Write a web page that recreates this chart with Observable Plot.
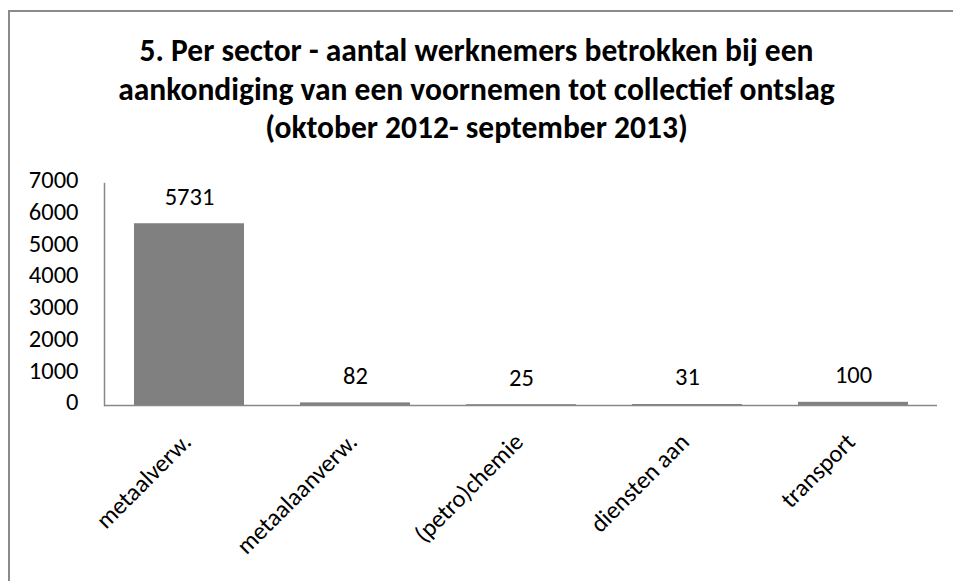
<!DOCTYPE html>
<html>
<head>
<meta charset="utf-8">
<script src="https://cdn.jsdelivr.net/npm/d3@7"></script>
<script src="https://cdn.jsdelivr.net/npm/@observablehq/plot@0.6"></script>
<style>
  html, body { margin: 0; padding: 0; background: #fff; }
  #wrap { position: relative; width: 953px; height: 581px; overflow: hidden; font-family: Carlito, Calibri, "Open Sans", sans-serif; }
  #border { position: absolute; left: 8px; top: 10px; width: 960px; height: 600px; border-left: 2px solid #8a8a8a; border-top: 2px solid #8a8a8a; }
  #title { position: absolute; left: 0; width: 953px; top: 31px; text-align: center; font-weight: bold; font-size: 31.5px; line-height: 38.5px; color: #000; }
  #chart { position: absolute; left: 0; top: 160px; }
</style>
</head>
<body>
<div id="wrap">
  <div id="border"></div>
  <div id="title">5. Per sector - aantal werknemers betrokken bij een<br>aankondiging van een voornemen tot collectief ontslag<br>(oktober 2012- september 2013)</div>
  <div id="chart"></div>
</div>
<script>
const categories = ["metaalverw.", "metaalaanverw.", "(petro)chemie", "diensten aan", "transport"];
const values = [5731, 82, 25, 31, 100];
const yTicks = [0, 1000, 2000, 3000, 4000, 5000, 6000, 7000];

const data = categories.map((c, i) => ({category: c, value: values[i]}));

const chart = Plot.plot({
  width: 953,
  height: 421,
  marginLeft: 104,
  marginRight: 16,
  marginTop: 23,
  marginBottom: 176,
  style: {fontFamily: 'Carlito, Calibri, "Open Sans", sans-serif', fontSize: "24.5px", color: "#000", background: "transparent"},
  x: {domain: categories, paddingInner: 0.34, paddingOuter: 0.17, axis: null},
  y: {domain: [0, 7000], axis: null},
  marks: [
    Plot.barY(data, {x: "category", y: "value", fill: "#808080"}),
    Plot.ruleY([0], {stroke: "#888888", strokeWidth: 1.5}),
    Plot.frame({anchor: "left", stroke: "#888888", strokeWidth: 1.5}),
    Plot.axisY({ticks: yTicks, tickSize: 0, tickPadding: 26, dy: -3, fontSize: 24.5, label: null, tickFormat: d => String(d)}),
    Plot.text(data, {x: "category", y: "value", text: d => String(d.value), dy: -27, fontSize: 24.5, fill: "#000"}),
    Plot.text(categories, {x: d => d, frameAnchor: "bottom", rotate: -45, textAnchor: "end", lineAnchor: "bottom", dx: 3, dy: 38, fontSize: 24.5, fill: "#000"})
  ]
});
document.getElementById("chart").appendChild(chart);
</script>
</body>
</html>
